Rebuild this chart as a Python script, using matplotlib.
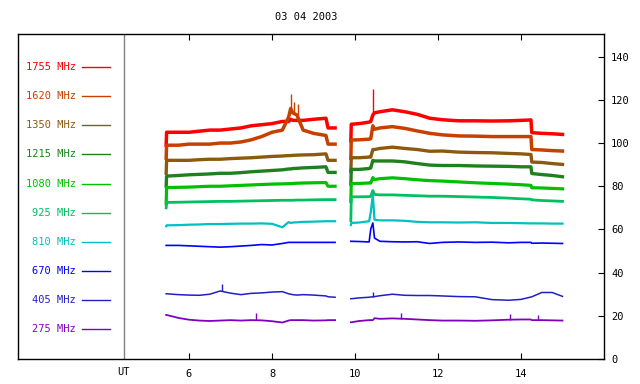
import numpy as np
import matplotlib
matplotlib.use("Agg")
import matplotlib.pyplot as plt

# time axis (UT hours) for the two observing blocks
t_a = [5.45, 5.46, 5.75, 6.0, 6.25, 6.5, 6.75, 7.0, 7.25, 7.5, 7.75, 8.0,
       8.25, 8.4, 8.45, 8.5, 8.6, 8.75, 9.0, 9.3, 9.35, 9.52]
t_b = [9.9, 9.91, 10.1, 10.34, 10.38, 10.43, 10.47, 10.6, 10.9, 11.2, 11.5,
       11.8, 12.1, 12.5, 12.9, 13.3, 13.7, 14.0, 14.24, 14.26, 14.5, 14.75, 15.0]

labels = ["1755 MHz", "1620 MHz", "1350 MHz", "1215 MHz", "1080 MHz",
          "925 MHz", "810 MHz", "670 MHz", "405 MHz", "275 MHz"]
colors = ["#FF0000", "#C84000", "#8B5A10", "#208020", "#00C000",
          "#00C060", "#00C0C0", "#0000FF", "#2020C0", "#8000C0"]

f1755_a = [99, 105, 105, 105, 105.5, 106, 106, 106.5, 107, 108, 108.5, 109,
           110, 110, 111, 110.5, 110.5, 110.5, 111, 111.5, 107, 107]
f1755_b = [101, 108.7, 109, 109.7, 110, 113, 114, 114.5, 115.4, 114.5, 113.3,
           111.5, 110.8, 110.3, 110.3, 110.2, 110.3, 110.5, 110.7, 104.8, 104.5, 104.3, 104]
f1620_a = [93, 99, 99, 99.5, 99.5, 99.5, 100, 100, 100.5, 101.5, 103, 105,
           106, 112, 116, 114, 113, 106, 104.5, 103.5, 99.5, 99.5]
f1620_b = [93, 101.4, 101.5, 101.8, 102, 108, 106.4, 107, 107.6, 106.8, 105.6,
           104.5, 103.8, 103.3, 103.2, 103, 103, 103, 103, 97, 96.8, 96.5, 96.3]
f1350_a = [86, 92, 92, 92, 92.3, 92.5, 92.5, 92.8, 93, 93.2, 93.5, 93.8,
           94, 94.2, 94.2, 94.3, 94.4, 94.5, 94.6, 95, 92, 92]
f1350_b = [87, 93.2, 93.2, 93.5, 93.5, 97, 97, 97.5, 98.1, 97.5, 97, 96.2,
           96.3, 95.8, 95.6, 95.5, 95.2, 95, 94.7, 91.2, 91, 90.5, 90.1]
f1215_a = [80, 84.7, 85, 85.3, 85.5, 85.7, 86, 86, 86.3, 86.7, 87, 87.3,
           87.6, 88, 88, 88.2, 88.3, 88.5, 88.7, 89, 86.4, 86.4]
f1215_b = [81, 87.8, 87.8, 88.2, 88.5, 92, 91.7, 91.7, 91.7, 91.3, 90.5, 89.8,
           89.6, 89.6, 89.4, 89.3, 89.2, 89, 89, 85.9, 85.4, 85, 84.4]
f1080_a = [72, 79.4, 79.5, 79.6, 79.8, 80, 80, 80.2, 80.4, 80.6, 80.8, 81,
           81.1, 81.2, 81.2, 81.3, 81.4, 81.5, 81.6, 81.7, 80, 80]
f1080_b = [73, 81.3, 81.3, 81.5, 81.5, 84, 83.1, 83.5, 83.9, 83.5, 83, 82.6,
           82.4, 82, 81.6, 81.3, 81, 80.7, 80.4, 79.3, 79.2, 79, 78.8]
f925_a = [70, 72.5, 72.6, 72.7, 72.8, 72.9, 73, 73, 73.1, 73.2, 73.3, 73.4,
          73.5, 73.5, 73.5, 73.5, 73.6, 73.6, 73.7, 73.8, 73.8, 73.8]
f925_b = [64, 75.1, 75.1, 75.2, 75.3, 78, 76.2, 76, 76, 75.8, 75.6, 75.4,
          75.4, 75.2, 75, 74.8, 74.5, 74.2, 74, 73.7, 73.4, 73.2, 73]
f810_a = [61.5, 61.9, 62, 62.2, 62.3, 62.5, 62.5, 62.6, 62.7, 62.7, 62.8, 62.6,
          61.0, 63.4, 63, 63.2, 63.3, 63.5, 63.6, 63.8, 63.8, 63.8]
f810_b = [62, 63, 63.2, 63.8, 68, 76, 64.5, 64.2, 64.2, 64, 63.5, 63.3,
          63.3, 63.2, 63.3, 63, 63, 62.9, 62.8, 62.8, 62.8, 62.7, 62.7]
f670_a = [52.6, 52.6, 52.6, 52.4, 52.2, 52, 51.8, 52, 52.3, 52.6, 53, 52.8,
          53.5, 54, 54, 54, 54, 54, 54, 54, 54, 54]
f670_b = [54.5, 54.5, 54.4, 54.2, 60.2, 63, 56, 54.5, 54.3, 54.2, 54.3, 53.5,
          54, 54.2, 54, 54.1, 53.8, 54, 54, 53.6, 53.7, 53.6, 53.5]
f405_a = [30.2, 30.2, 29.8, 29.6, 29.5, 30, 31.5, 30.5, 29.8, 30.4, 30.6, 31,
          31.2, 30.2, 30, 29.8, 29.6, 29.8, 29.6, 29.2, 28.8, 28.6]
f405_b = [27.9, 27.9, 28.3, 28.6, 28.7, 28.8, 28.9, 29.3, 30, 29.5, 29.4, 29.4,
          29.2, 28.9, 28.8, 27.5, 27.2, 27.6, 28.7, 28.8, 30.8, 30.8, 29]
f275_a = [20.4, 20.4, 19, 18.2, 17.8, 17.6, 17.8, 18, 17.8, 18, 17.9, 17.5,
          16.9, 17.8, 18, 18, 18, 18, 17.8, 17.9, 18, 18]
f275_b = [17, 17, 17.6, 18, 18, 18, 18.9, 18.6, 18.8, 18.6, 18.3, 18,
          17.8, 17.8, 17.7, 17.9, 18.2, 18.3, 18.3, 18, 18, 17.9, 17.8]

block_a = [f1755_a, f1620_a, f1350_a, f1215_a, f1080_a, f925_a, f810_a, f670_a, f405_a, f275_a]
block_b = [f1755_b, f1620_b, f1350_b, f1215_b, f1080_b, f925_b, f810_b, f670_b, f405_b, f275_b]

# short isolated spikes (channel index, time, peak value)
spikes = [(8, 6.8, 34.5), (8, 10.43, 31.0), (9, 7.62, 21.3), (9, 11.1, 21.3),
          (9, 13.73, 20.9), (9, 14.4, 20.6), (0, 10.43, 125), (1, 8.45, 122.5),
          (1, 8.52, 119), (1, 8.62, 118)]

widths = [2.5, 2.5, 2.4, 2.4, 2.3, 2.0, 1.6, 1.2, 1.1, 1.3]

mono = "DejaVu Sans Mono"
fig = plt.figure(figsize=(6.4, 3.84), dpi=100)
W, H = 640, 384
x0, x1, ytop, ybot = 18, 604, 34, 359
ax = fig.add_axes([x0 / W, 1 - ybot / H, (x1 - x0) / W, (ybot - ytop) / H])

pxh = 41.5  # pixels per hour
xmin = 6 - (189 - x0) / pxh
xmax = 6 + (x1 - 189) / pxh
ax.set_xlim(xmin, xmax)
ax.set_ylim(0, 150.5)

for i in range(len(labels)):
    ax.plot(t_a, block_a[i], color=colors[i], lw=widths[i])
    ax.plot(t_b, block_b[i], color=colors[i], lw=widths[i])

for ch, t, peak in spikes:
    tt = t_a if t < 9.7 else t_b
    vv = block_a[ch] if t < 9.7 else block_b[ch]
    base = np.interp(t, tt, vv)
    ax.vlines(t, base, peak, color=colors[ch], lw=1.0)

# legend panel on the left
def hx(px):
    return xmin + (px - x0) / pxh

for i, (lab, c) in enumerate(zip(labels, colors)):
    yv = 135.2 - 13.5 * i
    ax.text(hx(76), yv, lab, color=c, ha="right", va="center",
            family=mono, fontsize=7.5)
    ax.plot([hx(82), hx(110)], [yv, yv], color=c, lw=1.0)

ax.axvline(hx(124), color="#808080", lw=1.0)

for s in ["left", "right", "top", "bottom"]:
    ax.spines[s].set_color("black")
    ax.spines[s].set_linewidth(1.0)

ax.set_xticks([6, 8, 10, 12, 14])
ax.set_xticklabels(["6", "8", "10", "12", "14"], family=mono, fontsize=7.5)
ax.tick_params(axis="x", direction="in", length=4, top=True, pad=7)
ax.yaxis.tick_right()
ax.set_yticks(range(0, 141, 20))
ax.set_yticklabels([str(v) for v in range(0, 141, 20)], family=mono, fontsize=7.5)
ax.tick_params(axis="y", direction="in", length=4, left=False, right=True, pad=5)

ax.text(hx(124), -3.5, "UT", ha="center", va="top", family=mono, fontsize=7.5)
fig.text(306 / W, 1 - 17 / H, "03 04 2003", ha="center", va="center",
         family=mono, fontsize=7.5)

fig.savefig("out.png", dpi=100)
